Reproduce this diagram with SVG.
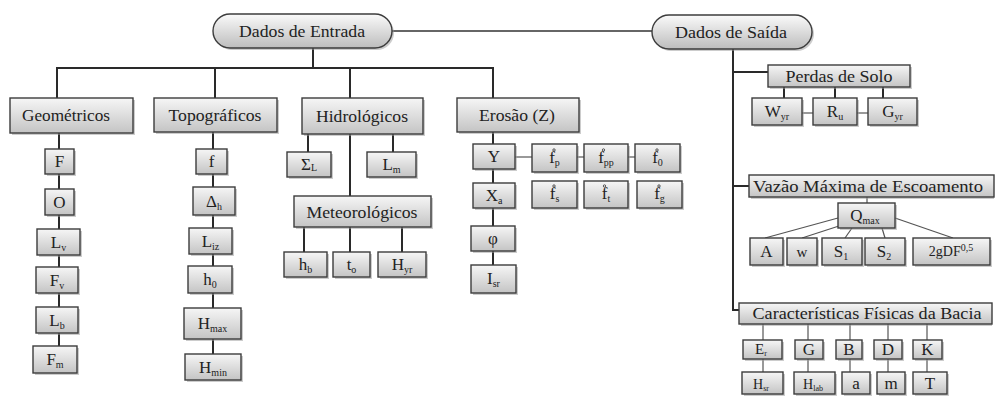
<svg xmlns="http://www.w3.org/2000/svg" width="995" height="396" viewBox="0 0 995 396">
<defs>
<linearGradient id="gb" x1="0" y1="0" x2="0" y2="1">
<stop offset="0" stop-color="#f6f6f6"/>
<stop offset="1" stop-color="#c4c4c4"/>
</linearGradient>
<linearGradient id="gp" x1="0" y1="0" x2="0" y2="1">
<stop offset="0" stop-color="#fafafa"/>
<stop offset="1" stop-color="#bdbdbd"/>
</linearGradient>
</defs>
<rect width="995" height="396" fill="#fff"/>
<g id="connectors" stroke="#2a2a2a" stroke-width="2" fill="none">
<line x1="313" y1="48" x2="313" y2="68"/>
<line x1="56" y1="68" x2="494" y2="68"/>
<line x1="57" y1="68" x2="57" y2="98"/>
<line x1="215" y1="68" x2="215" y2="98"/>
<line x1="350" y1="68" x2="350" y2="98"/>
<line x1="493" y1="68" x2="493" y2="98"/>
<line x1="392" y1="31" x2="652" y2="31" stroke="#333" stroke-width="1.6"/>
<line x1="733" y1="49" x2="733" y2="311"/>
<line x1="733" y1="72" x2="768" y2="72"/>
<line x1="733" y1="186" x2="749" y2="186"/>
<line x1="732" y1="310" x2="740" y2="310"/>
<line x1="784" y1="87" x2="784" y2="98"/>
<line x1="835" y1="87" x2="835" y2="98"/>
<line x1="883" y1="87" x2="883" y2="98"/>
<line x1="59" y1="133" x2="59" y2="346"/>
<line x1="213" y1="132" x2="213" y2="354"/>
<line x1="308" y1="134" x2="308" y2="152"/>
<line x1="393" y1="134" x2="393" y2="152"/>
<line x1="350" y1="134" x2="350" y2="196"/>
<line x1="304" y1="227" x2="304" y2="252"/>
<line x1="350" y1="227" x2="350" y2="252"/>
<line x1="402" y1="227" x2="402" y2="252"/>
<line x1="493" y1="132" x2="493" y2="265"/>
<g stroke="#555" stroke-width="1.2">
<line x1="802" y1="113" x2="813" y2="113"/>
<line x1="857" y1="113" x2="868" y2="113"/>
<line x1="867" y1="197" x2="867" y2="203"/>
<line x1="838" y1="218" x2="765" y2="238"/>
<line x1="842" y1="225" x2="802" y2="238"/>
<line x1="852" y1="228" x2="845" y2="238"/>
<line x1="882" y1="228" x2="885" y2="238"/>
<line x1="895" y1="218" x2="953" y2="238"/>
<line x1="763" y1="324" x2="763" y2="372"/>
<line x1="808" y1="324" x2="808" y2="372"/>
<line x1="850" y1="324" x2="850" y2="372"/>
<line x1="888" y1="324" x2="888" y2="372"/>
<line x1="927" y1="324" x2="927" y2="372"/>
<line x1="515" y1="157" x2="532" y2="157"/>
<line x1="577" y1="157" x2="584" y2="157"/>
<line x1="628" y1="157" x2="635" y2="157"/>
</g>
</g>

<g id="nodes">

<g id="dados-entrada"><rect x="215" y="16" width="179" height="34" rx="17" fill="#999" opacity="0.5"/><rect x="213" y="14" width="179" height="34" rx="17" fill="url(#gp)" stroke="#3c3c3c" stroke-width="1.4"/><text x="302" y="37" style="font-family:'Liberation Serif',serif;font-size:17px;text-anchor:middle;fill:#222" textLength="126" lengthAdjust="spacingAndGlyphs">Dados de Entrada</text></g>
<g id="dados-saida"><rect x="654" y="17" width="160" height="34" rx="17" fill="#999" opacity="0.5"/><rect x="652" y="15" width="160" height="34" rx="17" fill="url(#gp)" stroke="#3c3c3c" stroke-width="1.4"/><text x="731" y="38" style="font-family:'Liberation Serif',serif;font-size:17px;text-anchor:middle;fill:#222" textLength="112" lengthAdjust="spacingAndGlyphs">Dados de Saída</text></g>

<g id="geometricos"><rect x="12" y="100" width="123" height="35" fill="#999" opacity="0.5"/><rect x="10" y="98" width="123" height="35" fill="url(#gb)" stroke="#3c3c3c" stroke-width="1.4"/><text x="66" y="121" style="font-family:'Liberation Serif',serif;font-size:17px;text-anchor:middle;fill:#222" textLength="88" lengthAdjust="spacingAndGlyphs">Geométricos</text></g>
<g id="topograficos"><rect x="156" y="100" width="123" height="34" fill="#999" opacity="0.5"/><rect x="154" y="98" width="123" height="34" fill="url(#gb)" stroke="#3c3c3c" stroke-width="1.4"/><text x="215" y="121" style="font-family:'Liberation Serif',serif;font-size:17px;text-anchor:middle;fill:#222" textLength="93" lengthAdjust="spacingAndGlyphs">Topográficos</text></g>
<g id="hidrologicos"><rect x="304" y="100" width="121" height="36" fill="#999" opacity="0.5"/><rect x="302" y="98" width="121" height="36" fill="url(#gb)" stroke="#3c3c3c" stroke-width="1.4"/><text x="362" y="122" style="font-family:'Liberation Serif',serif;font-size:17px;text-anchor:middle;fill:#222" textLength="92" lengthAdjust="spacingAndGlyphs">Hidrológicos</text></g>
<g id="erosao"><rect x="459" y="100" width="122" height="34" fill="#999" opacity="0.5"/><rect x="457" y="98" width="122" height="34" fill="url(#gb)" stroke="#3c3c3c" stroke-width="1.4"/><text x="517" y="121" style="font-family:'Liberation Serif',serif;font-size:17px;text-anchor:middle;fill:#222" textLength="76" lengthAdjust="spacingAndGlyphs">Erosão (Z)</text></g>

<g id="g-F"><rect x="47" y="151" width="29" height="25" fill="#999" opacity="0.5"/><rect x="45" y="149" width="29" height="25" fill="url(#gb)" stroke="#3c3c3c" stroke-width="1.4"/><text x="59.5" y="167" style="font-family:'Liberation Serif',serif;font-size:17px;text-anchor:middle;fill:#222">F</text></g>
<g id="g-O"><rect x="47" y="191" width="29" height="26" fill="#999" opacity="0.5"/><rect x="45" y="189" width="29" height="26" fill="url(#gb)" stroke="#3c3c3c" stroke-width="1.4"/><text x="59.5" y="208" style="font-family:'Liberation Serif',serif;font-size:17px;text-anchor:middle;fill:#222">O</text></g>
<g id="g-Lv"><rect x="39" y="231" width="43" height="26" fill="#999" opacity="0.5"/><rect x="37" y="229" width="43" height="26" fill="url(#gb)" stroke="#3c3c3c" stroke-width="1.4"/><text x="58.5" y="248" style="font-family:'Liberation Serif',serif;font-size:17px;text-anchor:middle;fill:#222">L<tspan style="font-size:10px" dy="3">v</tspan></text></g>
<g id="g-Fv"><rect x="38" y="269" width="42" height="26" fill="#999" opacity="0.5"/><rect x="36" y="267" width="42" height="26" fill="url(#gb)" stroke="#3c3c3c" stroke-width="1.4"/><text x="57" y="286" style="font-family:'Liberation Serif',serif;font-size:17px;text-anchor:middle;fill:#222">F<tspan style="font-size:10px" dy="3">v</tspan></text></g>
<g id="g-Lb"><rect x="38" y="309" width="42" height="26" fill="#999" opacity="0.5"/><rect x="36" y="307" width="42" height="26" fill="url(#gb)" stroke="#3c3c3c" stroke-width="1.4"/><text x="57" y="326" style="font-family:'Liberation Serif',serif;font-size:17px;text-anchor:middle;fill:#222">L<tspan style="font-size:10px" dy="3">b</tspan></text></g>
<g id="g-Fm"><rect x="35" y="348" width="44" height="27" fill="#999" opacity="0.5"/><rect x="33" y="346" width="44" height="27" fill="url(#gb)" stroke="#3c3c3c" stroke-width="1.4"/><text x="55" y="365" style="font-family:'Liberation Serif',serif;font-size:17px;text-anchor:middle;fill:#222">F<tspan style="font-size:10px" dy="3">m</tspan></text></g>

<g id="t-f"><rect x="198" y="151" width="31" height="25" fill="#999" opacity="0.5"/><rect x="196" y="149" width="31" height="25" fill="url(#gb)" stroke="#3c3c3c" stroke-width="1.4"/><text x="211.5" y="167" style="font-family:'Liberation Serif',serif;font-size:17px;text-anchor:middle;fill:#222">f</text></g>
<g id="t-Dh"><rect x="195" y="189" width="42" height="28" fill="#999" opacity="0.5"/><rect x="193" y="187" width="42" height="28" fill="url(#gb)" stroke="#3c3c3c" stroke-width="1.4"/><text x="214" y="207" style="font-family:'Liberation Serif',serif;font-size:17px;text-anchor:middle;fill:#222">Δ<tspan style="font-size:10px" dy="3">h</tspan></text></g>
<g id="t-Liz"><rect x="191" y="230" width="43" height="26" fill="#999" opacity="0.5"/><rect x="189" y="228" width="43" height="26" fill="url(#gb)" stroke="#3c3c3c" stroke-width="1.4"/><text x="210.5" y="247" style="font-family:'Liberation Serif',serif;font-size:17px;text-anchor:middle;fill:#222">L<tspan style="font-size:10px" dy="3">iz</tspan></text></g>
<g id="t-h0"><rect x="190" y="268" width="44" height="27" fill="#999" opacity="0.5"/><rect x="188" y="266" width="44" height="27" fill="url(#gb)" stroke="#3c3c3c" stroke-width="1.4"/><text x="210" y="285" style="font-family:'Liberation Serif',serif;font-size:17px;text-anchor:middle;fill:#222">h<tspan style="font-size:10px" dy="3">0</tspan></text></g>
<g id="t-Hmax"><rect x="186" y="310" width="57" height="31" fill="#999" opacity="0.5"/><rect x="184" y="308" width="57" height="31" fill="url(#gb)" stroke="#3c3c3c" stroke-width="1.4"/><text x="212.5" y="329" style="font-family:'Liberation Serif',serif;font-size:17px;text-anchor:middle;fill:#222">H<tspan style="font-size:10px" dy="3">max</tspan></text></g>
<g id="t-Hmin"><rect x="187" y="356" width="56" height="26" fill="#999" opacity="0.5"/><rect x="185" y="354" width="56" height="26" fill="url(#gb)" stroke="#3c3c3c" stroke-width="1.4"/><text x="213" y="373" style="font-family:'Liberation Serif',serif;font-size:17px;text-anchor:middle;fill:#222">H<tspan style="font-size:10px" dy="3">min</tspan></text></g>

<g id="h-SL"><rect x="289" y="154" width="44" height="25" fill="#999" opacity="0.5"/><rect x="287" y="152" width="44" height="25" fill="url(#gb)" stroke="#3c3c3c" stroke-width="1.4"/><text x="309" y="170" style="font-family:'Liberation Serif',serif;font-size:17px;text-anchor:middle;fill:#222">Σ<tspan style="font-size:10px" dy="1">L</tspan></text></g>
<g id="h-Lm"><rect x="369" y="154" width="49" height="25" fill="#999" opacity="0.5"/><rect x="367" y="152" width="49" height="25" fill="url(#gb)" stroke="#3c3c3c" stroke-width="1.4"/><text x="391.5" y="170" style="font-family:'Liberation Serif',serif;font-size:17px;text-anchor:middle;fill:#222">L<tspan style="font-size:10px" dy="3">m</tspan></text></g>
<g id="meteorologicos"><rect x="296" y="198" width="137" height="31" fill="#999" opacity="0.5"/><rect x="294" y="196" width="137" height="31" fill="url(#gb)" stroke="#3c3c3c" stroke-width="1.4"/><text x="362" y="218" style="font-family:'Liberation Serif',serif;font-size:17px;text-anchor:middle;fill:#222" textLength="111" lengthAdjust="spacingAndGlyphs">Meteorológicos</text></g>
<g id="m-hb"><rect x="286" y="254" width="43" height="25" fill="#999" opacity="0.5"/><rect x="284" y="252" width="43" height="25" fill="url(#gb)" stroke="#3c3c3c" stroke-width="1.4"/><text x="305.5" y="270" style="font-family:'Liberation Serif',serif;font-size:17px;text-anchor:middle;fill:#222">h<tspan style="font-size:10px" dy="3">b</tspan></text></g>
<g id="m-to"><rect x="335" y="254" width="37" height="25" fill="#999" opacity="0.5"/><rect x="333" y="252" width="37" height="25" fill="url(#gb)" stroke="#3c3c3c" stroke-width="1.4"/><text x="351.5" y="270" style="font-family:'Liberation Serif',serif;font-size:17px;text-anchor:middle;fill:#222">t<tspan style="font-size:10px" dy="3">o</tspan></text></g>
<g id="m-Hyr"><rect x="380" y="254" width="48" height="25" fill="#999" opacity="0.5"/><rect x="378" y="252" width="48" height="25" fill="url(#gb)" stroke="#3c3c3c" stroke-width="1.4"/><text x="402" y="270" style="font-family:'Liberation Serif',serif;font-size:17px;text-anchor:middle;fill:#222">H<tspan style="font-size:10px" dy="3">yr</tspan></text></g>

<g id="e-Y"><rect x="475" y="146" width="42" height="25" fill="#999" opacity="0.5"/><rect x="473" y="144" width="42" height="25" fill="url(#gb)" stroke="#3c3c3c" stroke-width="1.4"/><text x="494" y="162" style="font-family:'Liberation Serif',serif;font-size:17px;text-anchor:middle;fill:#222">Y</text></g>
<g id="e-Xa"><rect x="475" y="185" width="42" height="25" fill="#999" opacity="0.5"/><rect x="473" y="183" width="42" height="25" fill="url(#gb)" stroke="#3c3c3c" stroke-width="1.4"/><text x="494" y="201" style="font-family:'Liberation Serif',serif;font-size:17px;text-anchor:middle;fill:#222">X<tspan style="font-size:10px" dy="3">a</tspan></text></g>
<g id="e-phi"><rect x="473" y="228" width="44" height="25" fill="#999" opacity="0.5"/><rect x="471" y="226" width="44" height="25" fill="url(#gb)" stroke="#3c3c3c" stroke-width="1.4"/><text x="493" y="244" style="font-family:'Liberation Serif',serif;font-size:17px;text-anchor:middle;fill:#222">φ</text></g>
<g id="e-Isr"><rect x="473" y="267" width="45" height="28" fill="#999" opacity="0.5"/><rect x="471" y="265" width="45" height="28" fill="url(#gb)" stroke="#3c3c3c" stroke-width="1.4"/><text x="493.5" y="284" style="font-family:'Liberation Serif',serif;font-size:17px;text-anchor:middle;fill:#222">I<tspan style="font-size:10px" dy="3">sr</tspan></text></g>
<g id="e-fp"><rect x="534" y="146" width="45" height="28" fill="#999" opacity="0.5"/><rect x="532" y="144" width="45" height="28" fill="url(#gb)" stroke="#3c3c3c" stroke-width="1.4"/><text x="554.5" y="163" style="font-family:'Liberation Serif',serif;font-size:17px;text-anchor:middle;fill:#222">f<tspan style="font-size:10px" dy="3">p</tspan></text></g>
<g id="e-fpp"><rect x="586" y="146" width="44" height="28" fill="#999" opacity="0.5"/><rect x="584" y="144" width="44" height="28" fill="url(#gb)" stroke="#3c3c3c" stroke-width="1.4"/><text x="606" y="163" style="font-family:'Liberation Serif',serif;font-size:17px;text-anchor:middle;fill:#222">f<tspan style="font-size:10px" dy="3">pp</tspan></text></g>
<g id="e-f0"><rect x="637" y="146" width="45" height="28" fill="#999" opacity="0.5"/><rect x="635" y="144" width="45" height="28" fill="url(#gb)" stroke="#3c3c3c" stroke-width="1.4"/><text x="657.5" y="163" style="font-family:'Liberation Serif',serif;font-size:17px;text-anchor:middle;fill:#222">f<tspan style="font-size:10px" dy="3">0</tspan></text></g>
<g id="e-fs"><rect x="534" y="183" width="45" height="27" fill="#999" opacity="0.5"/><rect x="532" y="181" width="45" height="27" fill="url(#gb)" stroke="#3c3c3c" stroke-width="1.4"/><text x="554.5" y="199" style="font-family:'Liberation Serif',serif;font-size:17px;text-anchor:middle;fill:#222">f<tspan style="font-size:10px" dy="3">s</tspan></text></g>
<g id="e-ft"><rect x="586" y="183" width="44" height="27" fill="#999" opacity="0.5"/><rect x="584" y="181" width="44" height="27" fill="url(#gb)" stroke="#3c3c3c" stroke-width="1.4"/><text x="606" y="199" style="font-family:'Liberation Serif',serif;font-size:17px;text-anchor:middle;fill:#222">f<tspan style="font-size:10px" dy="3">t</tspan></text></g>
<g id="e-fg"><rect x="639" y="183" width="45" height="27" fill="#999" opacity="0.5"/><rect x="637" y="181" width="45" height="27" fill="url(#gb)" stroke="#3c3c3c" stroke-width="1.4"/><text x="659.5" y="199" style="font-family:'Liberation Serif',serif;font-size:17px;text-anchor:middle;fill:#222">f<tspan style="font-size:10px" dy="3">g</tspan></text></g>
<g id="f-rings" fill="none" stroke="#333" stroke-width="0.8">
<circle cx="554" cy="150" r="1.2"/><circle cx="603.5" cy="150" r="1.2"/><circle cx="657" cy="150" r="1.2"/>
<circle cx="554" cy="186" r="1.2"/><circle cx="604.5" cy="186" r="1.2"/><circle cx="659" cy="186" r="1.2"/>
</g>

<g id="perdas-solo"><rect x="770" y="67" width="142" height="22" fill="#999" opacity="0.5"/><rect x="768" y="65" width="142" height="22" fill="url(#gb)" stroke="#3c3c3c" stroke-width="1.4"/><text x="839" y="82" style="font-family:'Liberation Serif',serif;font-size:17px;text-anchor:middle;fill:#222" textLength="107" lengthAdjust="spacingAndGlyphs">Perdas de Solo</text></g>
<g id="p-Wyr"><rect x="754" y="100" width="50" height="27" fill="#999" opacity="0.5"/><rect x="752" y="98" width="50" height="27" fill="url(#gb)" stroke="#3c3c3c" stroke-width="1.4"/><text x="777" y="117" style="font-family:'Liberation Serif',serif;font-size:17px;text-anchor:middle;fill:#222">W<tspan style="font-size:10px" dy="3">yr</tspan></text></g>
<g id="p-Ru"><rect x="815" y="100" width="44" height="27" fill="#999" opacity="0.5"/><rect x="813" y="98" width="44" height="27" fill="url(#gb)" stroke="#3c3c3c" stroke-width="1.4"/><text x="835" y="117" style="font-family:'Liberation Serif',serif;font-size:17px;text-anchor:middle;fill:#222">R<tspan style="font-size:10px" dy="3">u</tspan></text></g>
<g id="p-Gyr"><rect x="870" y="100" width="49" height="27" fill="#999" opacity="0.5"/><rect x="868" y="98" width="49" height="27" fill="url(#gb)" stroke="#3c3c3c" stroke-width="1.4"/><text x="892.5" y="117" style="font-family:'Liberation Serif',serif;font-size:17px;text-anchor:middle;fill:#222">G<tspan style="font-size:10px" dy="3">yr</tspan></text></g>

<g id="vazao"><rect x="751" y="177" width="243" height="22" fill="#999" opacity="0.5"/><rect x="749" y="175" width="245" height="22" fill="url(#gb)" stroke="#3c3c3c" stroke-width="1.4"/><text x="868" y="192" style="font-family:'Liberation Serif',serif;font-size:17px;text-anchor:middle;fill:#222" textLength="230" lengthAdjust="spacingAndGlyphs">Vazão Máxima  de Escoamento</text></g>
<g id="v-Qmax"><rect x="840" y="205" width="57" height="25" fill="#999" opacity="0.5"/><rect x="838" y="203" width="57" height="25" fill="url(#gb)" stroke="#3c3c3c" stroke-width="1.4"/><text x="865" y="221" style="font-family:'Liberation Serif',serif;font-size:17px;text-anchor:middle;fill:#222">Q<tspan style="font-size:10px" dy="3">max</tspan></text></g>
<g id="v-A"><rect x="752" y="240" width="33" height="27" fill="#999" opacity="0.5"/><rect x="750" y="238" width="33" height="27" fill="url(#gb)" stroke="#3c3c3c" stroke-width="1.4"/><text x="766.5" y="257" style="font-family:'Liberation Serif',serif;font-size:17px;text-anchor:middle;fill:#222">A</text></g>
<g id="v-w"><rect x="789" y="240" width="30" height="27" fill="#999" opacity="0.5"/><rect x="787" y="238" width="30" height="27" fill="url(#gb)" stroke="#3c3c3c" stroke-width="1.4"/><text x="802" y="257" style="font-family:'Liberation Serif',serif;font-size:15px;text-anchor:middle;fill:#222">w</text></g>
<g id="v-S1"><rect x="824" y="240" width="40" height="27" fill="#999" opacity="0.5"/><rect x="822" y="238" width="40" height="27" fill="url(#gb)" stroke="#3c3c3c" stroke-width="1.4"/><text x="841" y="257" style="font-family:'Liberation Serif',serif;font-size:17px;text-anchor:middle;fill:#222">S<tspan style="font-size:10px" dy="3">1</tspan></text></g>
<g id="v-S2"><rect x="867" y="240" width="40" height="27" fill="#999" opacity="0.5"/><rect x="865" y="238" width="40" height="27" fill="url(#gb)" stroke="#3c3c3c" stroke-width="1.4"/><text x="884" y="257" style="font-family:'Liberation Serif',serif;font-size:17px;text-anchor:middle;fill:#222">S<tspan style="font-size:10px" dy="3">2</tspan></text></g>
<g id="v-2gDF"><rect x="915" y="240" width="77" height="27" fill="#999" opacity="0.5"/><rect x="913" y="238" width="77" height="27" fill="url(#gb)" stroke="#3c3c3c" stroke-width="1.4"/><text x="951" y="256" style="font-family:'Liberation Serif',serif;font-size:14px;text-anchor:middle;fill:#222">2gDF<tspan style="font-size:10px" dy="-5">0,5</tspan></text></g>

<g id="caracteristicas"><rect x="741" y="305" width="251" height="21" fill="#999" opacity="0.5"/><rect x="739" y="303" width="253" height="21" fill="url(#gb)" stroke="#3c3c3c" stroke-width="1.4"/><text x="867" y="319" style="font-family:'Liberation Serif',serif;font-size:17px;text-anchor:middle;fill:#222" textLength="229" lengthAdjust="spacingAndGlyphs">Características Físicas da Bacia</text></g>
<g id="c-Er"><rect x="745" y="342" width="39" height="19" fill="#999" opacity="0.5"/><rect x="743" y="340" width="39" height="19" fill="url(#gb)" stroke="#3c3c3c" stroke-width="1.4"/><text x="761" y="354" style="font-family:'Liberation Serif',serif;font-size:15px;text-anchor:middle;fill:#222">E<tspan style="font-size:8px" dy="2">r</tspan></text></g>
<g id="c-G"><rect x="797" y="342" width="28" height="19" fill="#999" opacity="0.5"/><rect x="795" y="340" width="28" height="19" fill="url(#gb)" stroke="#3c3c3c" stroke-width="1.4"/><text x="809" y="355" style="font-family:'Liberation Serif',serif;font-size:17px;text-anchor:middle;fill:#222">G</text></g>
<g id="c-B"><rect x="838" y="342" width="26" height="19" fill="#999" opacity="0.5"/><rect x="836" y="340" width="26" height="19" fill="url(#gb)" stroke="#3c3c3c" stroke-width="1.4"/><text x="849" y="355" style="font-family:'Liberation Serif',serif;font-size:17px;text-anchor:middle;fill:#222">B</text></g>
<g id="c-D"><rect x="876" y="342" width="28" height="19" fill="#999" opacity="0.5"/><rect x="874" y="340" width="28" height="19" fill="url(#gb)" stroke="#3c3c3c" stroke-width="1.4"/><text x="888" y="355" style="font-family:'Liberation Serif',serif;font-size:17px;text-anchor:middle;fill:#222">D</text></g>
<g id="c-K"><rect x="915" y="342" width="29" height="19" fill="#999" opacity="0.5"/><rect x="913" y="340" width="29" height="19" fill="url(#gb)" stroke="#3c3c3c" stroke-width="1.4"/><text x="927.5" y="355" style="font-family:'Liberation Serif',serif;font-size:17px;text-anchor:middle;fill:#222">K</text></g>
<g id="c-Hsr"><rect x="744" y="374" width="41" height="22" fill="#999" opacity="0.5"/><rect x="742" y="372" width="41" height="22" fill="url(#gb)" stroke="#3c3c3c" stroke-width="1.4"/><text x="761" y="389" style="font-family:'Liberation Serif',serif;font-size:14px;text-anchor:middle;fill:#222">H<tspan style="font-size:8px" dy="2">sr</tspan></text></g>
<g id="c-Hlab"><rect x="796" y="374" width="41" height="22" fill="#999" opacity="0.5"/><rect x="794" y="372" width="41" height="22" fill="url(#gb)" stroke="#3c3c3c" stroke-width="1.4"/><text x="813" y="389" style="font-family:'Liberation Serif',serif;font-size:14px;text-anchor:middle;fill:#222">H<tspan style="font-size:8px" dy="2">lab</tspan></text></g>
<g id="c-a"><rect x="844" y="374" width="28" height="22" fill="#999" opacity="0.5"/><rect x="842" y="372" width="28" height="22" fill="url(#gb)" stroke="#3c3c3c" stroke-width="1.4"/><text x="856" y="389" style="font-family:'Liberation Serif',serif;font-size:17px;text-anchor:middle;fill:#222">a</text></g>
<g id="c-m"><rect x="879" y="374" width="28" height="22" fill="#999" opacity="0.5"/><rect x="877" y="372" width="28" height="22" fill="url(#gb)" stroke="#3c3c3c" stroke-width="1.4"/><text x="891" y="389" style="font-family:'Liberation Serif',serif;font-size:17px;text-anchor:middle;fill:#222">m</text></g>
<g id="c-T"><rect x="915" y="374" width="34" height="22" fill="#999" opacity="0.5"/><rect x="913" y="372" width="34" height="22" fill="url(#gb)" stroke="#3c3c3c" stroke-width="1.4"/><text x="930" y="389" style="font-family:'Liberation Serif',serif;font-size:17px;text-anchor:middle;fill:#222">T</text></g>
</g>
</svg>
